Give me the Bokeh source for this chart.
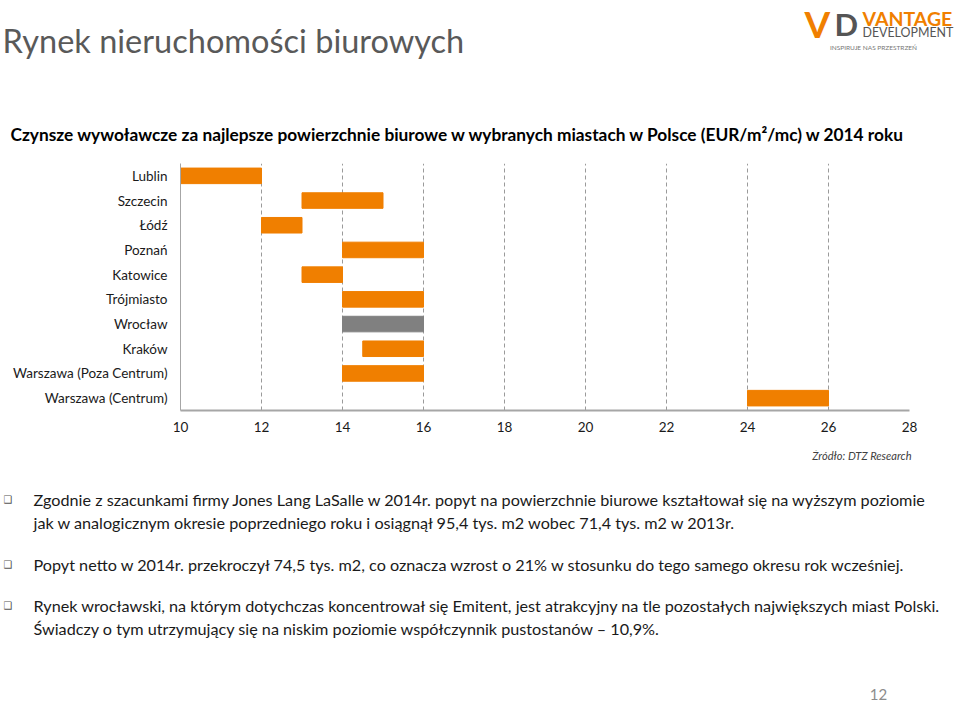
from bokeh.plotting import figure
from bokeh.layouts import column
from bokeh.models import FactorRange, Range1d, FixedTicker, ColumnDataSource
from bokeh.core.properties import value
from bokeh.embed import file_html
from bokeh.resources import INLINE

# ---- data ----
cities = ["Lublin", "Szczecin", "Łódź", "Poznań", "Katowice", "Trójmiasto",
          "Wrocław", "Kraków", "Warszawa (Poza Centrum)", "Warszawa (Centrum)"]
rent_min = [10, 13, 12, 14, 13, 14, 14, 14.5, 14, 24]
rent_max = [12, 15, 13, 16, 14, 16, 16, 16, 16, 26]
x_ticks = [10, 12, 14, 16, 18, 20, 22, 24, 26, 28]
highlight = "Wrocław"

title_text = "Rynek nieruchomości biurowych"
subtitle_text = "Czynsze wywoławcze za najlepsze powierzchnie biurowe w wybranych miastach w Polsce (EUR/m²/mc) w 2014 roku"
source_text = "Źródło: DTZ Research"
bullet_lines = [
    "Zgodnie z szacunkami firmy Jones Lang LaSalle w 2014r.  popyt na powierzchnie biurowe kształtował się na wyższym poziomie",
    "jak w analogicznym okresie poprzedniego roku i osiągnął 95,4 tys. m2  wobec 71,4 tys. m2 w 2013r.",
    "Popyt netto w 2014r. przekroczył 74,5 tys. m2, co oznacza wzrost o 21% w stosunku do tego samego okresu rok wcześniej.",
    "Rynek wrocławski, na którym dotychczas koncentrował się Emitent, jest atrakcyjny na tle pozostałych największych miast Polski.",
    "Świadczy o tym utrzymujący się na niskim poziomie współczynnik pustostanów – 10,9%.",
]
bullet_marks = [True, False, True, True, False]
page_number = "12"

ORANGE = "#F07F00"
GREY_BAR = "#808080"
FONT = "Lato"
W = 960

colors = [GREY_BAR if c == highlight else ORANGE for c in cities]
src = ColumnDataSource(dict(city=cities, lo=rent_min, hi=rent_max, color=colors))


def blank(height, y0):
    f = figure(width=W, height=height, output_backend="svg", toolbar_location=None,
               x_range=Range1d(0, W), y_range=Range1d(y0 + height, y0),
               min_border=0, outline_line_color=None, frame_align=False)
    f.axis.visible = False
    f.grid.visible = False
    return f


def txt(f, t, X, Y, size, color="#1a1a1a", style="normal", align="left", font=FONT):
    f.text(x=[X], y=[Y], text=[t], text_font=value(font), text_font_size=f"{size}px",
           text_color=color, text_font_style=style, text_align=align, text_baseline="middle")


# ---- top panel: title, subtitle, logo ----
TOP_H = 150
top = blank(TOP_H, 0)
txt(top, title_text, 2, 40, 32.5, color="#595959")
txt(top, subtitle_text, 10, 134, 17.3, color="#000000", style="bold")
txt(top, "V", 804, 23, 37, color=ORANGE, style="bold")
txt(top, "D", 834, 23, 31, color="#555555", style="bold")
txt(top, "VANTAGE", 862, 18, 19.5, color=ORANGE, style="bold")
txt(top, "DEVELOPMENT", 862, 32, 12.4, color="#555555")
txt(top, "INSPIRUJE NAS PRZESTRZEŃ", 873, 47, 6.5, color="#777777", align="center")

# ---- chart ----
CH_Y0, CH_H = 150, 300
FL, FT, FR, FB = 180, 163, 909, 410
p = figure(width=W, height=CH_H, output_backend="svg", toolbar_location=None,
           y_range=FactorRange(factors=list(reversed(cities)), range_padding=0),
           x_range=Range1d(10, 28), frame_align=False,
           min_border_left=FL, min_border_right=W - FR,
           min_border_top=FT - CH_Y0, min_border_bottom=CH_Y0 + CH_H - FB)
p.outline_line_color = None

p.hbar(y="city", left="lo", right="hi", height=0.63, color="color", source=src)

p.xaxis.ticker = FixedTicker(ticks=x_ticks)
p.xaxis.axis_line_color = "#A6A6A6"
p.xaxis.axis_line_width = 2
p.xaxis.major_tick_line_color = None
p.xaxis.minor_tick_line_color = None
p.xaxis.major_label_text_font = FONT
p.xaxis.major_label_text_font_size = "13.5px"
p.xaxis.major_label_text_color = "#1a1a1a"
p.xaxis.major_label_standoff = 5

p.yaxis.axis_line_color = "#A6A6A6"
p.yaxis.axis_line_width = 1
p.yaxis.major_tick_line_color = None
p.yaxis.minor_tick_line_color = None
p.yaxis.major_label_text_font = FONT
p.yaxis.major_label_text_font_size = "13.5px"
p.yaxis.major_label_text_color = "#1a1a1a"
p.yaxis.major_label_standoff = 7

p.ygrid.grid_line_color = None
p.xgrid.ticker = FixedTicker(ticks=x_ticks[1:])
p.xgrid.grid_line_color = "#9A9A9A"
p.xgrid.grid_line_dash = "4 3"
p.xgrid.grid_line_width = 1

# ---- bottom panel: source, bullets, page number ----
BOT_Y0 = CH_Y0 + CH_H
BOT_H = 704 - BOT_Y0
bot = blank(BOT_H, BOT_Y0)
txt(bot, source_text, 911, 455, 11.1, color="#404040", style="italic", align="right")
bullet_y = [499, 522, 564, 605, 628]
for t, has_b, y in zip(bullet_lines, bullet_marks, bullet_y):
    txt(bot, t, 33, y, 16.2, color="#1a1a1a")
    if has_b:
        txt(bot, "❑", 3, y, 10, color="#555555", font="DejaVu Sans")
txt(bot, page_number, 878, 694, 15, color="#8C8C8C", align="center")

layout = column(top, p, bot, spacing=0)
open("out.html", "w").write(file_html(layout, INLINE))
